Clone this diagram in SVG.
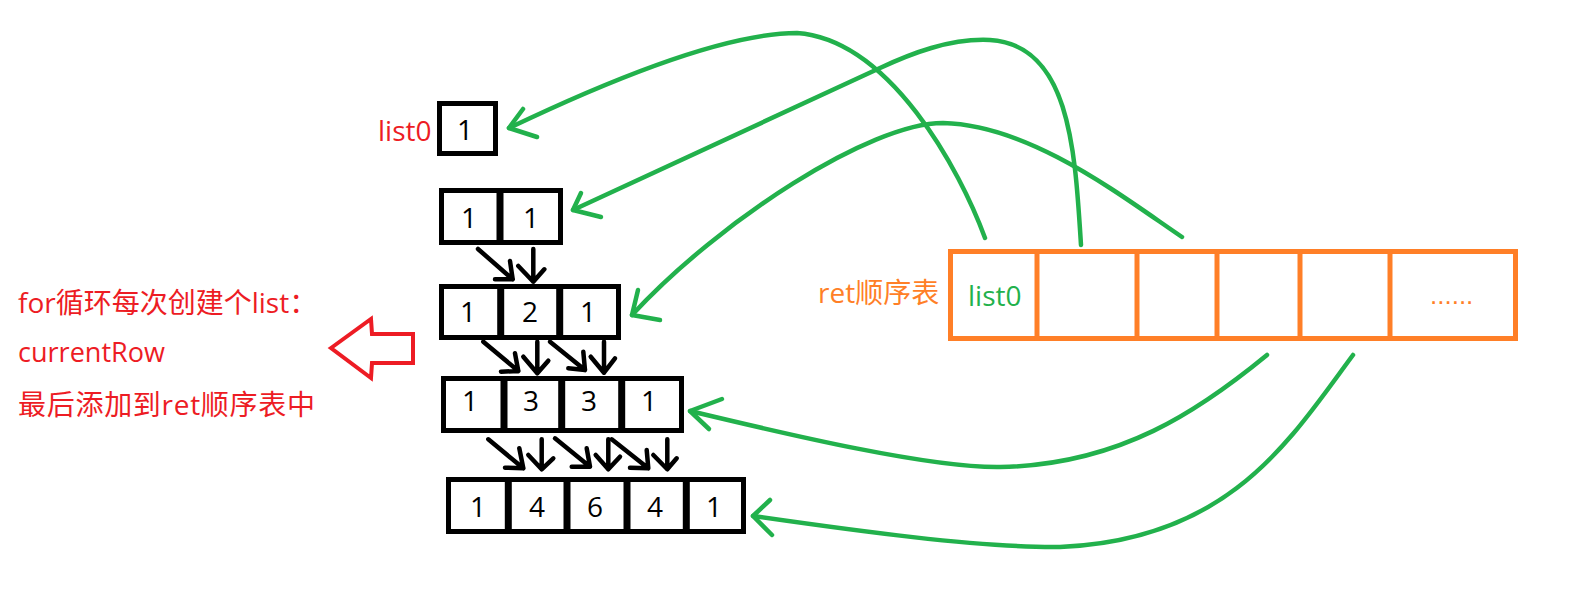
<svg xmlns="http://www.w3.org/2000/svg" width="1569" height="604" viewBox="0 0 1569 604">
<style>
.box{fill:none;stroke:#000;stroke-width:5}
.div{stroke:#000;stroke-width:7}
.num{font-family:"Open Sans","Noto Sans CJK SC",sans-serif;font-size:28px;fill:#000;text-anchor:middle}
.red{font-family:"Open Sans","Noto Sans CJK SC",sans-serif;font-size:28px;fill:#ED1C24}
.org{font-family:"Open Sans","Noto Sans CJK SC",sans-serif;font-size:28px;fill:#FF7F27}
.grt{font-family:"Open Sans","Noto Sans CJK SC",sans-serif;font-size:28px;fill:#22B14C}
.ar{fill:none;stroke:#000;stroke-width:4.5;stroke-linecap:round;stroke-linejoin:round}
.gr{fill:none;stroke:#22B14C;stroke-width:4.5;stroke-linecap:round;stroke-linejoin:round}
.tb{fill:none;stroke:#FF7F27;stroke-width:5}
</style>
<rect width="1569" height="604" fill="#fff"/>

<g id="note">
<text class="red" x="18" y="313">for循环每次创建个list：</text>
<text class="red" x="18" y="362" textLength="147" lengthAdjust="spacingAndGlyphs">currentRow</text>
<text class="red" x="18" y="415" textLength="297" lengthAdjust="spacing">最后添加到ret顺序表中</text>
</g>
<g id="hollow-arrow">
<polygon points="331,348 371,319 372,334 413,334 413,363 372,363 371,378" fill="none" stroke="#ED1C24" stroke-width="4" stroke-linejoin="miter"/>
</g>

<g id="list0">
<text class="red" x="378" y="141">list0</text>
<rect class="box" x="439.5" y="103.5" width="56" height="50"/>
<text class="num" x="465" y="140">1</text>
</g>

<g id="row2">
<rect class="box" x="441.5" y="190.5" width="119" height="52"/>
<line class="div" x1="500" y1="190" x2="500" y2="243"/>
<text class="num" x="469" y="228">1</text>
<text class="num" x="531" y="228">1</text>
</g>

<g id="row3">
<rect class="box" x="441.5" y="286.5" width="177" height="51"/>
<line class="div" x1="500.7" y1="286" x2="500.7" y2="338"/>
<line class="div" x1="559.7" y1="286" x2="559.7" y2="338"/>
<text class="num" x="468" y="322">1</text>
<text class="num" x="530" y="322">2</text>
<text class="num" x="588" y="322">1</text>
</g>

<g id="row4">
<rect class="box" x="443.5" y="378.5" width="238" height="52"/>
<line class="div" x1="504" y1="378" x2="504" y2="431"/>
<line class="div" x1="561.7" y1="378" x2="561.7" y2="431"/>
<line class="div" x1="621.7" y1="378" x2="621.7" y2="431"/>
<text class="num" x="470" y="411">1</text>
<text class="num" x="531" y="411">3</text>
<text class="num" x="589" y="411">3</text>
<text class="num" x="649" y="411">1</text>
</g>

<g id="row5">
<rect class="box" x="448.5" y="479.5" width="295" height="52"/>
<line class="div" x1="508.3" y1="479" x2="508.3" y2="532"/>
<line class="div" x1="567" y1="479" x2="567" y2="532"/>
<line class="div" x1="627" y1="479" x2="627" y2="532"/>
<line class="div" x1="686.3" y1="479" x2="686.3" y2="532"/>
<text class="num" x="478" y="517">1</text>
<text class="num" x="537" y="517">4</text>
<text class="num" x="595" y="517">6</text>
<text class="num" x="655" y="517">4</text>
<text class="num" x="714" y="517">1</text>
</g>

<g id="ret-table">
<text class="org" x="818" y="303">ret顺序表</text>
<rect class="tb" x="950.5" y="251.5" width="565" height="87"/>
<line class="tb" x1="1037" y1="251" x2="1037" y2="341"/>
<line class="tb" x1="1137" y1="251" x2="1137" y2="341"/>
<line class="tb" x1="1217" y1="251" x2="1217" y2="339"/>
<line class="tb" x1="1300" y1="251" x2="1300" y2="339"/>
<line class="tb" x1="1390" y1="251" x2="1390" y2="339"/>
<text class="grt" x="968" y="306">list0</text>
<text x="1430" y="304" font-family="Liberation Sans,sans-serif" font-size="26" fill="#FF7F27">......</text>
</g>

<g id="connectors">
<path class="ar" d="M478,249 L512.7,279.3 M510,261 L512.7,279.3 L495,279.3"/>
<path class="ar" d="M533.3,249 L533.3,281.7 M518.3,266 L533.3,281.7 L544.3,269.3"/>
<path class="ar" d="M483.3,341.7 L518.3,371 M515,353.3 L518.3,371 L501,371.7"/>
<path class="ar" d="M537.3,341.7 L537.3,373.3 M523.3,356.7 L537.3,373.3 L548.3,360.7"/>
<path class="ar" d="M550,341.7 L585,370 M583.3,351.7 L585,370 L568.3,368.3"/>
<path class="ar" d="M604,341.7 L604,372.7 M590.7,356.7 L604,372.7 L615,358.3"/>
<path class="ar" d="M488.3,439.3 L523.3,468.3 M519.3,448.3 L523.3,468.3 L505,467.7"/>
<path class="ar" d="M541.7,439.3 L541.7,469.3 M528.3,455 L541.7,469.3 L553.3,458.3"/>
<path class="ar" d="M555,438.3 L590,466.7 M586.7,448.3 L590,466.7 L571.7,466.7"/>
<path class="ar" d="M608.3,439.3 L608.3,469.3 M595.7,455 L608.3,469.3 L620,456.7"/>
<path class="ar" d="M611.7,439.3 L648.3,468.3 M646.7,450 L648.3,468.3 L630,467.7"/>
<path class="ar" d="M667.3,439.3 L667.3,469.3 M653.3,455 L667.3,469.3 L676.7,458.3"/>

<path class="gr" d="M985,238 C960,170 890,40 797,33 C730,33 620,75 509,128"/>
<path class="gr" d="M523,109 L509,128 L537,137"/>
<path class="gr" d="M1081,245 C1075,150 1070,45 990,40 C950,38 910,54 880,68 L573,210"/>
<path class="gr" d="M581,193 L573,210 L601,217"/>
<path class="gr" d="M1182,237 C1120,195 1030,125 943,123 C870,123 720,220 632,315"/>
<path class="gr" d="M638,290 L632,315 L660,320"/>
<path class="gr" d="M1267,355 C1200,410 1120,465 1000,467 C930,468 790,435 690,411"/>
<path class="gr" d="M722,399 L690,411 L709,429"/>
<path class="gr" d="M1353,355 C1290,440 1230,540 1060,547 C980,548 850,530 753,516"/>
<path class="gr" d="M770,500 L753,516 L772,535"/>
</g>
</svg>
